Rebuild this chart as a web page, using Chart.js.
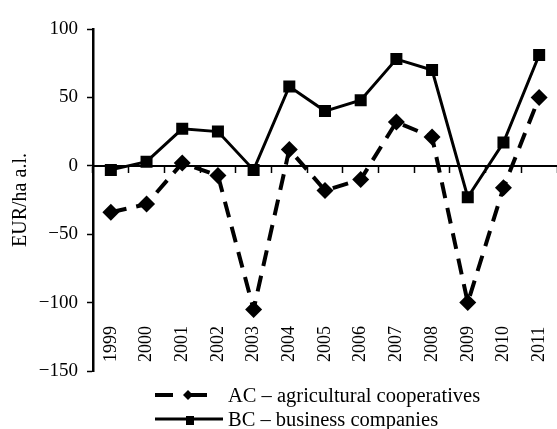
<!DOCTYPE html>
<html lang="en">
<head>
  <meta charset="UTF-8" />
  <title>EUR/ha a.l. - AC vs BC</title>
  <script src="https://cdn.jsdelivr.net/npm/chart.js"></script>
  <style>
    body {
      margin: 0;
      background: #fff;
      font-family: "Liberation Serif", "DejaVu Serif", serif;
    }
    .wrap {
      position: relative;
      width: 557px;
      height: 429px;
    }
    .legend {
      position: absolute;
      left: 155px;
      top: 383px;
      font-size: 20.5px;
      color: #000;
    }
    .legend-row {
      display: flex;
      align-items: center;
      height: 24px;
    }
    .legend-row svg { margin-right: 3px; }
  </style>
</head>
<body>
  <div class="wrap">
    <canvas id="chart"></canvas>
    <div class="legend">
      <div class="legend-row">
        <svg width="70" height="20">
          <line x1="0" y1="10" x2="18" y2="10" stroke="#000" stroke-width="4" />
          <line x1="31" y1="10" x2="52" y2="10" stroke="#000" stroke-width="4" />
          <polygon points="33,5 38,10 33,15 28,10" fill="#000" />
        </svg>
        <span>AC – agricultural cooperatives</span>
      </div>
      <div class="legend-row">
        <svg width="70" height="20">
          <line x1="0" y1="10" x2="68" y2="10" stroke="#000" stroke-width="3" />
          <rect x="31" y="7" width="8" height="9" fill="#000" />
        </svg>
        <span>BC – business companies</span>
      </div>
    </div>
  </div>

  <script>
    const years = ['1999', '2000', '2001', '2002', '2003', '2004', '2005', '2006', '2007', '2008', '2009', '2010', '2011'];
    const acValues = [-34, -28, 2, -7, -105, 12, -18, -10, 32, 21, -100, -16, 50];
    const bcValues = [-3, 3, 27, 25, -3, 58, 40, 48, 78, 70, -23, 17, 81];
    const yMin = -150, yMax = 100, yStep = 50;

    const serif = '"Liberation Serif", "DejaVu Serif", serif';

    // year labels sit inside the plot, near the bottom, reading upward
    const yearLabels = {
      id: 'yearLabels',
      afterDraw(chart) {
        const ctx = chart.ctx;
        const xs = chart.scales.x;
        const bottom = chart.chartArea.bottom - 9;
        ctx.save();
        ctx.fillStyle = '#000';
        ctx.font = '18px ' + serif;
        ctx.textAlign = 'left';
        ctx.textBaseline = 'middle';
        years.forEach((y, i) => {
          ctx.save();
          ctx.translate(xs.getPixelForValue(i), bottom);
          ctx.rotate(-Math.PI / 2);
          ctx.fillText(y, 0, 0);
          ctx.restore();
        });
        ctx.restore();
      }
    };

    new Chart(document.getElementById('chart'), {
      type: 'line',
      data: {
        labels: years,
        datasets: [
          {
            label: 'AC – agricultural cooperatives',
            data: acValues,
            borderColor: '#000',
            backgroundColor: '#000',
            borderWidth: 4,
            borderDash: [16, 10],
            pointStyle: 'rectRot',
            pointRadius: 8.5,
            pointBorderWidth: 0,
            tension: 0
          },
          {
            label: 'BC – business companies',
            data: bcValues,
            borderColor: '#000',
            backgroundColor: '#000',
            borderWidth: 3,
            pointStyle: 'rect',
            pointRadius: 8.5,
            pointBorderWidth: 0,
            tension: 0
          }
        ]
      },
      options: {
        responsive: true,
        maintainAspectRatio: false,
        animation: false,
        layout: { autoPadding: false, padding: { top: 29, right: 0, bottom: 58, left: 0 } },
        plugins: {
          legend: { display: false },
          tooltip: { enabled: false }
        },
        scales: {
          x: {
            position: { y: 0 },
            offset: true,
            ticks: { display: false },
            grid: {
              offset: true,
              drawOnChartArea: false,
              drawTicks: true,
              tickLength: 6,
              tickColor: '#000',
              tickWidth: 1.5
            },
            border: { color: '#000', width: 2 }
          },
          y: {
            min: yMin,
            max: yMax,
            afterFit(scale) { scale.width = 93; },
            ticks: {
              stepSize: yStep,
              color: '#000',
              padding: 9,
              font: { family: serif, size: 19 },
              callback: v => String(v).replace('-', '\u2212')
            },
            grid: {
              drawOnChartArea: false,
              drawTicks: true,
              tickLength: 6,
              tickColor: '#000',
              tickWidth: 1.5
            },
            border: { color: '#000', width: 2.5 },
            title: {
              display: true,
              text: 'EUR/ha a.l.',
              color: '#000',
              font: { family: serif, size: 20 },
              padding: { top: 9, bottom: 0 }
            }
          }
        }
      },
      plugins: [yearLabels]
    });
  </script>
</body>
</html>
